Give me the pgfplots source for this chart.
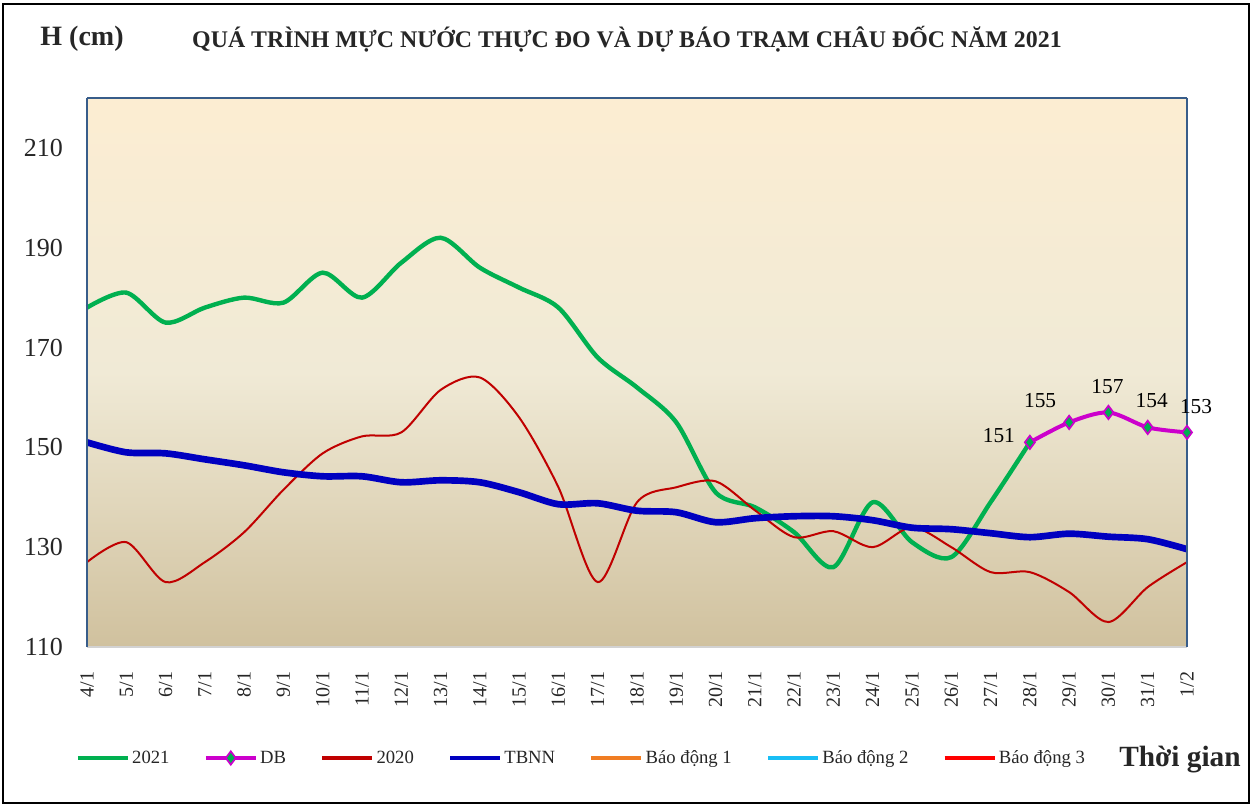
\documentclass[border=0pt]{standalone}
\usepackage{pgfplots}
\pgfplotsset{compat=1.18}
\usepackage{pgfplotstable}
\usepackage{fontspec}
\setmainfont{Liberation Serif}

\definecolor{g21}{RGB}{0,176,80}
\definecolor{r20}{RGB}{192,0,0}
\definecolor{tb}{RGB}{0,0,192}
\definecolor{dbc}{RGB}{204,0,204}
\definecolor{bd1}{RGB}{240,125,35}
\definecolor{bd2}{RGB}{25,190,245}
\definecolor{bd3}{RGB}{255,0,0}
\definecolor{bgtop}{RGB}{252,237,210}
\definecolor{bgmid}{RGB}{240,234,214}
\definecolor{bgbot}{RGB}{208,193,158}
\definecolor{axblue}{RGB}{56,93,138}
\definecolor{txt}{RGB}{38,38,38}

\pgfplotstableread{
x y
0 178
1 181
2 175
3 178
4 180
5 179
6 185
7 180
8 187
9 192
10 186
11 182
12 178
13 168
14 162
15 155
16 141
17 138
18 133
19 126
20 139
21 131
22 128
23 139
24 151
}\tbA

\pgfplotstableread{
x y dx dy
24 151 -23.25 5.25
25 155 -21.75 16.5
26 157 -0.75 19.5
27 154 3 20.25
28 153 6.75 19.5
}\tbDB

\pgfplotstableread{
x y
0 127
1 131
2 123
3 127
4 133
5 141.5
6 148.8
7 152.2
8 153
9 161.5
10 164
11 156
12 142
13 123
14 139
15 142
16 143.2
17 137.4
18 132
19 133.2
20 130
21 134
22 130
23 125
24 125
25 121
26 115
27 122
28 127
}\tbB

\pgfplotstableread{
x y
0 151
1 149
2 148.8
3 147.6
4 146.4
5 145
6 144.2
7 144.2
8 143
9 143.4
10 143
11 141
12 138.6
13 138.8
14 137.3
15 137
16 135
17 135.8
18 136.2
19 136.2
20 135.4
21 133.9
22 133.6
23 132.8
24 132
25 132.7
26 132.1
27 131.6
28 129.6
}\tbC

\begin{document}
\begin{tikzpicture}
\path[use as bounding box] (0pt,0pt) rectangle (939.75pt,603.75pt);
\draw[line width=1.5pt, black] (2.5pt,1.5pt) rectangle (936.5pt,600.5pt);
\node[font=\fontsize{21}{24}\selectfont\bfseries, text=txt] at (61.5pt,574.5pt) {H (cm)};
\node[font=\fontsize{17.9}{20}\selectfont\bfseries, text=txt] at (470.25pt,574.5pt) {QUÁ TRÌNH MỰC NƯỚC THỰC ĐO VÀ DỰ BÁO TRẠM CHÂU ĐỐC NĂM 2021};
\node[font=\fontsize{22}{25}\selectfont\bfseries, text=txt] at (885pt,33.75pt) {Thời gian};
\begin{axis}[
  at={(65.25pt,118.5pt)}, anchor=south west,
  scale only axis, width=825pt, height=411.75pt,
  xmin=0, xmax=28, ymin=110, ymax=220,
  clip=false,
  axis line style={draw=none},
  major tick length=0pt,
  axis background/.style={top color=bgtop, bottom color=bgbot, middle color=bgmid},
  ytick={110,130,150,170,190,210},
  yticklabel style={font=\fontsize{19.5}{22}\selectfont, text=txt, xshift=-14.5pt},
  xtick={0,...,28},
  xticklabels={4/1,5/1,6/1,7/1,8/1,9/1,10/1,11/1,12/1,13/1,14/1,15/1,16/1,17/1,18/1,19/1,20/1,21/1,22/1,23/1,24/1,25/1,26/1,27/1,28/1,29/1,30/1,31/1,1/2},
  xticklabel style={yshift=-15pt, rotate=90, anchor=east, font=\fontsize{15}{17}\selectfont, text=txt},
  /pgf/number format/assume math mode=true,
  legend columns=7,
  legend style={at={(-0.0136,-0.2022)}, anchor=west, draw=none, fill=none,
    font=\fontsize{14}{16}\selectfont, text=txt,
    /tikz/every even column/.append style={column sep=24pt}},
  legend image code/.code={\draw[mark repeat=2,mark phase=2,#1, line width=2.4pt] plot coordinates {(0pt,0pt) (18.75pt,0pt) (37.5pt,0pt)};},
]
\addplot[g21, line width=3.3pt, smooth, no markers] table[x=x,y=y] {\tbA};
\addlegendentry{2021}
\addplot[dbc, line width=3pt, smooth, mark=diamond*, mark size=5pt,
  mark options={fill=g21, draw=dbc, line width=1.3pt},
  nodes near coords, point meta=explicit symbolic,
  visualization depends on={\thisrow{dx}\as\dx},
  visualization depends on={\thisrow{dy}\as\dy},
  every node near coord/.append style={anchor=center, xshift=\dx pt, yshift=\dy pt, text=black, font=\fontsize{16}{18}\selectfont}
  ] table[x=x,y=y,meta=y] {\tbDB};
\addlegendentry{DB}
\addplot[r20, line width=1.5pt, smooth, no markers] table[x=x,y=y] {\tbB};
\addlegendentry{2020}
\addplot[tb, line width=5pt, smooth, no markers] table[x=x,y=y] {\tbC};
\addlegendentry{TBNN}
\addlegendimage{bd1, line width=2.4pt}
\addlegendentry{Báo động 1}
\addlegendimage{bd2, line width=2.4pt}
\addlegendentry{Báo động 2}
\addlegendimage{bd3, line width=2.4pt}
\addlegendentry{Báo động 3}
\draw[gray!35, line width=1.5pt] (rel axis cs:0,0) -- (rel axis cs:1,0);
\draw[axblue, line width=1.2pt] (rel axis cs:0,0) -- (rel axis cs:0,1);
\draw[axblue, line width=1.2pt] (rel axis cs:1,0) -- (rel axis cs:1,1);
\draw[axblue, line width=1.8pt] (rel axis cs:0,1) -- (rel axis cs:1,1);
\end{axis}
\end{tikzpicture}
\end{document}
